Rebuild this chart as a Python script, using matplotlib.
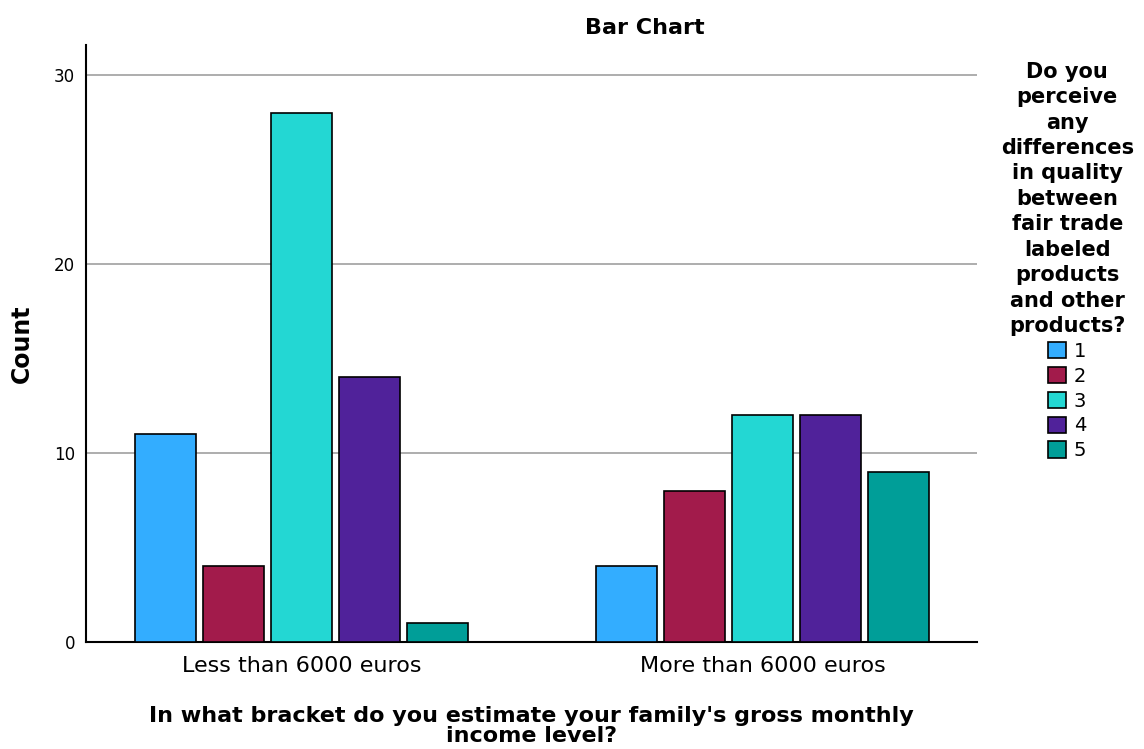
import numpy as np
import matplotlib
matplotlib.use('Agg')
import matplotlib.pyplot as plt

income = ["Less than 6000 euros", "More than 6000 euros"]
answers = ["1", "2", "3", "4", "5"]
counts = {
    "1": [11, 4],
    "2": [4, 8],
    "3": [28, 12],
    "4": [14, 12],
    "5": [1, 9],
}
colors = ["#33adff", "#a21b4b", "#23d7d3", "#50229a", "#009e98"]

fig = plt.figure(figsize=(11.44, 7.49), dpi=100)
ax = fig.add_axes([0.0752, 0.1429, 0.7788, 0.797])

x = np.arange(len(income))
step = 0.1475
width = 0.132
for i, ans in enumerate(answers):
    ax.bar(x + (i - 2) * step, counts[ans], width, color=colors[i],
           edgecolor='black', linewidth=1.2, label=ans, zorder=3)

ax.set_xlim(-0.4675, 1.465)
ax.set_ylim(0, 31.6)
ax.set_yticks([0, 10, 20, 30])
ax.yaxis.grid(True, color='#a0a0a0', linewidth=1.2, zorder=0)
ax.set_xticks(x)
ax.set_xticklabels(income, fontsize=16)
ax.tick_params(axis='both', length=0)
ax.tick_params(axis='y', labelsize=12, pad=8)
ax.tick_params(axis='x', pad=10)
for s in ['top', 'right']:
    ax.spines[s].set_visible(False)
for s in ['left', 'bottom']:
    ax.spines[s].set_linewidth(1.5)

ax.set_ylabel("Count", fontsize=17, fontweight='bold', labelpad=14)
ax.set_xlabel("In what bracket do you estimate your family's gross monthly\nincome level?",
              fontsize=16, fontweight='bold', linespacing=1.0, labelpad=22)
fig.text(0.564, 0.963, "Bar Chart", ha='center', va='center', fontsize=16, fontweight='bold')

leg = ax.legend(title="Do you\nperceive\nany\ndifferences\nin quality\nbetween\nfair trade\nlabeled\nproducts\nand other\nproducts?",
                loc='upper center', bbox_to_anchor=(0.933, 0.928), bbox_transform=fig.transFigure,
                frameon=False, fontsize=14, handlelength=0.9, handleheight=0.9,
                handletextpad=0.4, labelspacing=0.3, borderaxespad=0)
ttl = leg.get_title()
ttl.set_fontweight('bold')
ttl.set_fontsize(15)
ttl.set_linespacing(1.34)
ttl.set_multialignment('center')

fig.savefig("out.png", dpi=100)
